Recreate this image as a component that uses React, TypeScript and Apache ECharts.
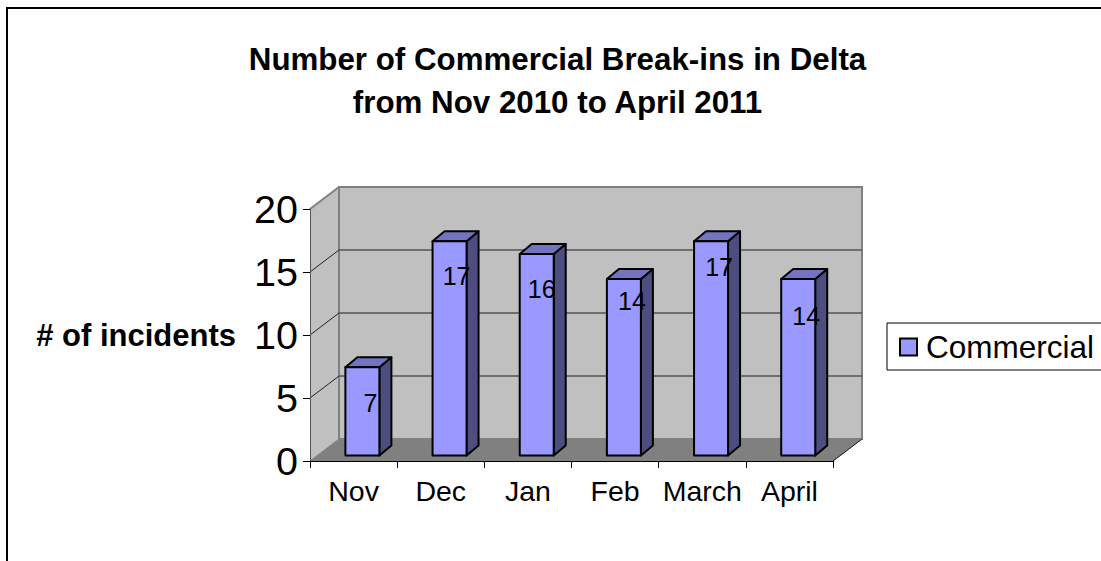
import React, { useEffect, useRef } from "react";
import * as echarts from "echarts";

const categories = ["Nov", "Dec", "Jan", "Feb", "March", "April"];
const commercial = [7, 17, 16, 14, 17, 14];
const gridValues = [5, 10, 15];
const labelDrop = [36, 35, 35, 22, 26, 37];
const labelShift = [8, 7, 5, 8, 8, 8];

const FONT = "'Liberation Sans', Arial, sans-serif";
const WALL = [29, -22];
const BAR_DEPTH = [12, -10];
const BAR_FRONT = [8.8, -5.5];
const BAR_W = 34;

export default function App() {
  const ref = useRef<HTMLDivElement>(null);
  useEffect(() => {
    document.body.style.margin = "0";
    document.body.style.overflow = "hidden";
    const chart = echarts.init(ref.current!, undefined, { renderer: "svg" });
    chart.setOption({
      animation: false,
      backgroundColor: "#ffffff",
      textStyle: { fontFamily: FONT },
      title: {
        text: "Number of Commercial Break-ins in Delta\nfrom Nov 2010 to April 2011",
        left: 552.5,
        top: 33,
        textAlign: "center",
        textStyle: { fontFamily: FONT, fontSize: 31.3, fontWeight: "bold", lineHeight: 43, color: "#000" },
      },
      legend: {
        data: [{ name: "Commercial", itemStyle: { color: "#9999ff", borderColor: "#000", borderWidth: 2 } }],
        left: 887,
        top: 323,
        padding: [8, 30, 7, 12],
        borderColor: "#000",
        borderWidth: 1,
        itemWidth: 17,
        itemHeight: 17,
        itemGap: 0,
        icon: "rect",
        textStyle: { fontFamily: FONT, fontSize: 31.5, color: "#000", padding: [2, 0, 0, 4] },
      },
      grid: { left: 310, top: 209, width: 523, height: 252 },
      xAxis: {
        type: "category",
        data: categories,
        z: 1,
        axisLine: { show: true, lineStyle: { color: "#000", width: 1 } },
        axisTick: { show: true, length: 7, alignWithLabel: false, lineStyle: { color: "#000" } },
        axisLabel: { fontFamily: FONT, fontSize: 28.5, color: "#000", margin: 15, interval: 0 },
      },
      yAxis: {
        type: "value",
        min: 0,
        max: 20,
        interval: 5,
        z: 1,
        name: "# of incidents",
        nameLocation: "middle",
        nameRotate: 0,
        nameGap: 74,
        nameTextStyle: { fontFamily: FONT, fontSize: 31, fontWeight: "bold", color: "#000", padding: [5, 0, 0, 0] },
        axisLine: { show: true, lineStyle: { color: "#555", width: 1 } },
        axisTick: { show: true, length: 7, lineStyle: { color: "#000" } },
        axisLabel: { fontFamily: FONT, fontSize: 39.5, color: "#000", margin: 12 },
        splitLine: { show: false },
      },
      graphic: [
        {
          type: "polyline",
          z: 10,
          shape: { points: [[7, 561], [7, 8], [1101, 8]] },
          style: { stroke: "#000", lineWidth: 2, fill: "none" },
        },
      ],
      series: [
        {
          type: "custom",
          name: "walls",
          z: 0,
          silent: true,
          data: [[0, 0]],
          encode: { x: 0, y: 1 },
          renderItem: (_p: any, api: any) => {
            const band = api.size([1, 0])[0];
            const x0 = api.coord([0, 0])[0] - band / 2;
            const x1 = api.coord([categories.length - 1, 0])[0] + band / 2;
            const y0 = api.coord([0, 0])[1];
            const y1 = api.coord([0, 20])[1];
            const [dx, dy] = WALL;
            const wall = { fill: "#c0c0c0", stroke: "#808080", lineWidth: 2 };
            return {
              type: "group",
              children: [
                { type: "polygon", shape: { points: [[x0, y0], [x0 + dx, y0 + dy], [x0 + dx, y1 + dy], [x0, y1]] }, style: { ...wall, stroke: "none" } },
                { type: "polygon", shape: { points: [[x0 + dx, y0 + dy], [x1 + dx, y0 + dy], [x1 + dx, y1 + dy], [x0 + dx, y1 + dy]] }, style: wall },
                { type: "line", shape: { x1: x0, y1: y1, x2: x0 + dx, y2: y1 + dy }, style: { stroke: "#808080", lineWidth: 2 } },
                { type: "polygon", shape: { points: [[x0, y0], [x0 + dx, y0 + dy], [x1 + dx, y0 + dy], [x1, y0]] }, style: { fill: "#808080", stroke: "#808080", lineWidth: 1 } },
                { type: "line", shape: { x1: x1, y1: y0, x2: x1 + dx, y2: y0 + dy }, style: { stroke: "#222", lineWidth: 1 } },
              ],
            };
          },
        },
        {
          type: "custom",
          name: "gridlines",
          z: 1,
          silent: true,
          data: gridValues.map((v) => [0, v]),
          encode: { x: 0, y: 1 },
          renderItem: (_p: any, api: any) => {
            const band = api.size([1, 0])[0];
            const v = api.value(1);
            const x0 = api.coord([0, v])[0] - band / 2;
            const x1 = api.coord([categories.length - 1, v])[0] + band / 2;
            const y = api.coord([0, v])[1];
            const [dx, dy] = WALL;
            return {
              type: "group",
              children: [
                { type: "line", shape: { x1: x0, y1: y, x2: x0 + dx, y2: y + dy }, style: { stroke: "#222", lineWidth: 1 } },
                { type: "line", shape: { x1: x0 + dx, y1: y + dy, x2: x1 + dx, y2: y + dy }, style: { stroke: "#555", lineWidth: 1.5 } },
              ],
            };
          },
        },
        {
          type: "custom",
          name: "Commercial",
          z: 2,
          silent: true,
          itemStyle: { color: "#9999ff" },
          data: commercial.map((v, i) => [i, v]),
          encode: { x: 0, y: 1 },
          renderItem: (p: any, api: any) => {
            const top = api.coord([api.value(0), api.value(1)]);
            const base = api.coord([api.value(0), 0]);
            const l = top[0] + BAR_FRONT[0] - BAR_W / 2;
            const r = l + BAR_W;
            const t = top[1] + BAR_FRONT[1];
            const b = base[1] + BAR_FRONT[1];
            const [dx, dy] = BAR_DEPTH;
            const edge = { stroke: "#000", lineWidth: 2, lineJoin: "round" };
            return {
              type: "group",
              children: [
                { type: "polygon", shape: { points: [[r, t], [r + dx, t + dy], [r + dx, b + dy], [r, b]] }, style: { fill: "#4d4d80", ...edge } },
                { type: "polygon", shape: { points: [[l, t], [l + dx, t + dy], [r + dx, t + dy], [r, t]] }, style: { fill: "#7373bf", ...edge } },
                { type: "rect", shape: { x: l, y: t, width: BAR_W, height: b - t }, style: { fill: "#9999ff", ...edge } },
                {
                  type: "text",
                  x: (l + r) / 2 + labelShift[p.dataIndex],
                  y: t + labelDrop[p.dataIndex],
                  style: {
                    text: String(api.value(1)),
                    fontFamily: FONT,
                    fontSize: 25,
                    fill: "#000",
                    align: "center",
                    verticalAlign: "middle",
                  },
                },
              ],
            };
          },
        },
      ],
    });
    return () => chart.dispose();
  }, []);
  return <div ref={ref} style={{ position: "fixed", left: 0, top: 0, width: 1101, height: 561 }} />;
}
